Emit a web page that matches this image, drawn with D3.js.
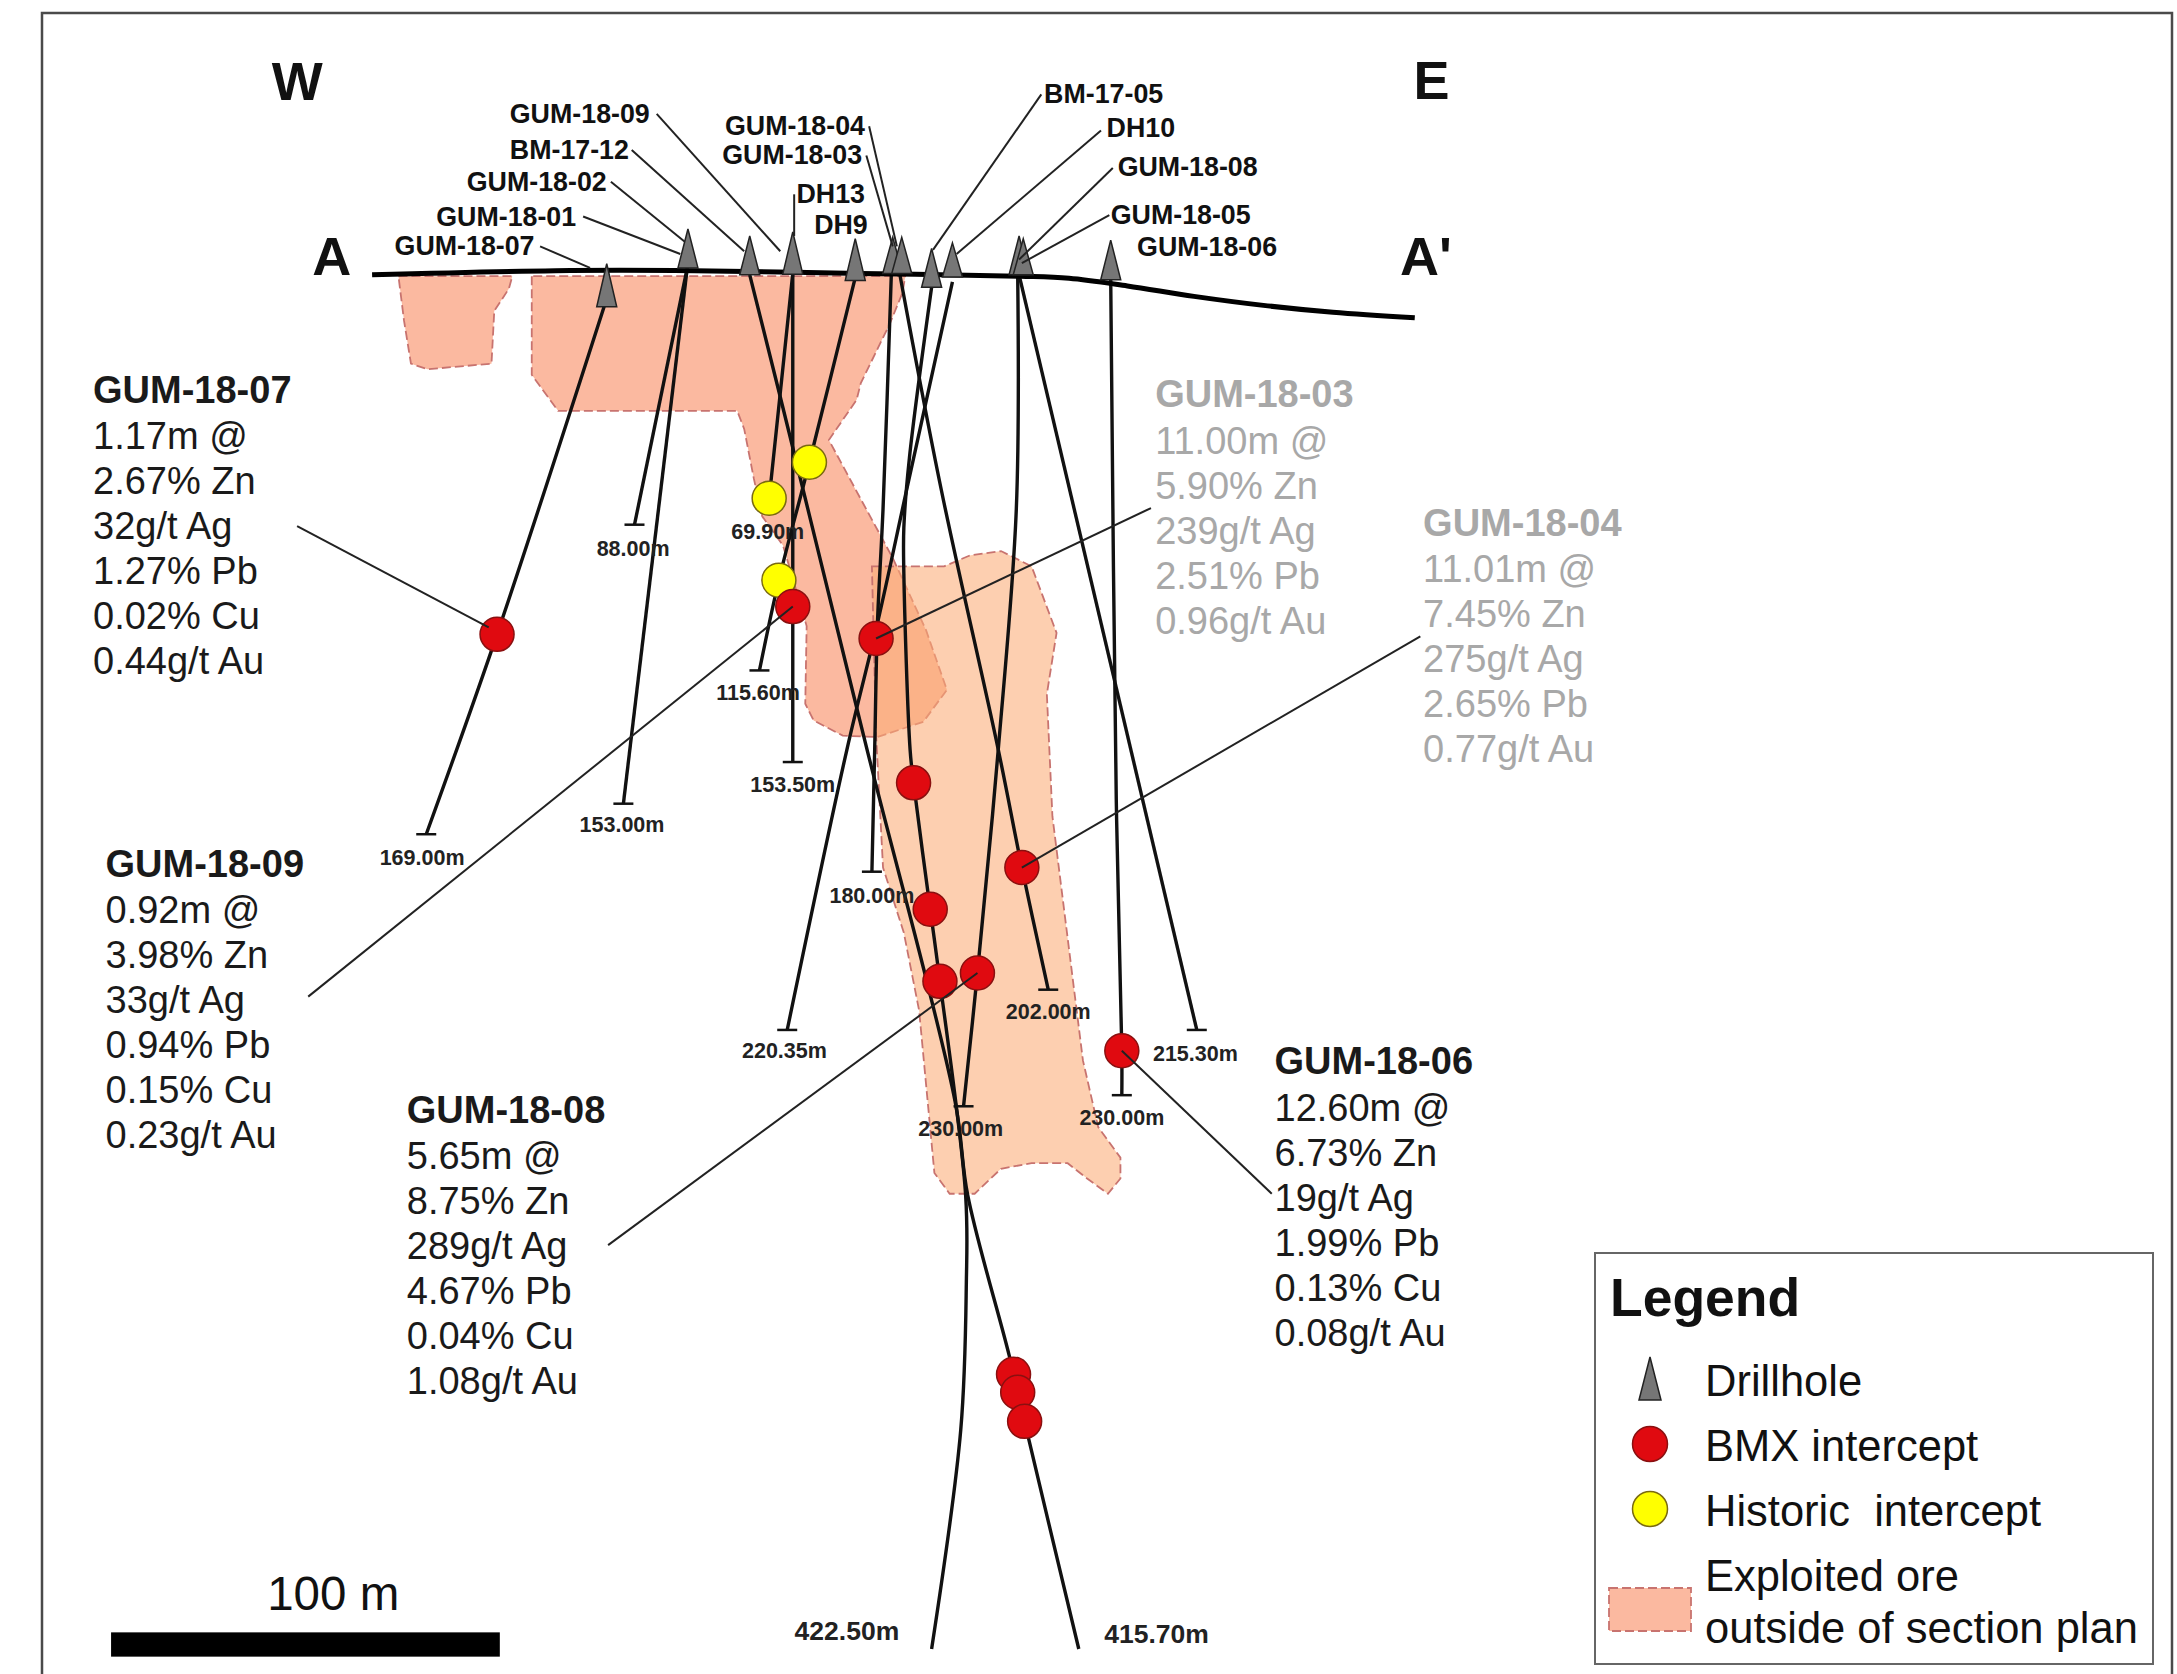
<!DOCTYPE html>
<html>
<head>
<meta charset="utf-8">
<script src="https://cdn.jsdelivr.net/npm/d3@7"></script>
<style>
  html, body { margin: 0; padding: 0; background: #fff; }
  svg { display: block; }
  text { font-family: "Liberation Sans", Arial, sans-serif; fill: #111; white-space: pre; }
</style>
</head>
<body>
<script>
// all readings are in section units: x along the section, y down the section
const holeNames = ["GUM-18-07", "GUM-18-01", "GUM-18-02", "BM-17-12", "DH13", "GUM-18-09", "DH9", "GUM-18-03", "GUM-18-05", "BM-17-05", "DH10", "GUM-18-08", "GUM-18-04", "GUM-18-06"]
const holeDepths = ["169.00m", "153.00m", "88.00m", "415.70m", "69.90m", "153.50m", "115.60m", "180.00m", "215.30m", "422.50m", "220.35m", "230.00m", "202.00m", "230.00m"]
const holeTraces = [
  [[437, 215], [358, 457], [307, 601]],
  [[495, 193], [449, 579]],
  [[495, 193], [457, 378]],
  [[540, 198], [562, 286], [578.5, 353], [624.5, 540], [688, 794], [697, 861], [727, 977], [741, 1037], [777, 1188]],
  [[571, 197], [554, 359], [553, 368]],
  [[571, 197], [571, 437], [571, 549]],
  [[616, 200], [583, 333], [561, 418], [547, 483]],
  [[642, 197], [636, 367], [632, 449], [630, 540], [628, 628]],
  [[734, 198], [862, 742]],
  [[671, 207], [655, 330], [651, 380], [651, 413], [655.5, 540], [658, 564], [670, 655], [677, 707], [695.5, 861], [696, 925], [692, 1030], [671, 1188]],
  [[686, 203], [653, 353], [632, 449], [610, 540], [567, 742]],
  [[733, 198], [732, 367], [719, 540], [704, 701], [694, 797]],
  [[648, 197], [678, 353], [719, 540], [736, 625], [755, 713]],
  [[800, 201], [804, 576], [808, 757], [808, 789]]
]
const collars = [[437, 190, 221], [495.5, 165, 193], [540, 170, 198], [571, 167, 197.5], [616, 172, 202], [643, 171, 197], [649.5, 171, 197], [671, 179, 207], [686, 175, 199.5], [734, 170, 198], [737, 172, 198], [800, 173, 201.5]]

const bmxIntercepts = [[358, 457], [571, 437], [631, 460], [658, 564], [736, 625], [670, 655], [677, 707], [704, 701], [808, 757], [730, 990], [733, 1003], [738, 1024]]
const historicIntercepts = [[583, 333], [554, 359], [561, 418]]

const surface = [[268, 198], [400, 195], [500, 195], [620, 197], [735, 199], [770, 200.5], [812, 206], [860, 213.5], [910, 220], [960, 225], [1019, 229]]
const oreSmall = [[287, 199], [369, 199], [366.5, 208], [356, 224], [354, 262], [308, 266], [296, 262], [291, 231]]
const oreUpper = [[383, 199], [383, 270], [402, 296], [531, 296], [536, 309], [543, 345], [549, 372], [564, 393], [581, 451], [580, 507], [586, 519], [607, 530], [632, 531], [665, 520], [682, 497], [667, 454], [643, 402], [624, 367], [597, 317], [617, 288], [620, 276], [641, 233], [650, 211], [652, 199]]
const oreLower = [[628, 408], [651, 408], [680, 408], [699, 400], [721, 397], [743, 408], [761, 456], [754, 500], [758, 588], [780, 764], [791, 812], [807, 834], [807, 849], [798, 860], [783, 849], [769, 838], [743, 838], [721, 842], [702, 860], [684, 860], [673, 845], [662, 728], [651, 672], [636, 625], [631, 529]]

const annotationHoles = ["GUM-18-07", "GUM-18-09", "GUM-18-08", "GUM-18-06", "GUM-18-03", "GUM-18-04"]
const annotationLines = [
  ["1.17m @", "2.67% Zn", "32g/t Ag", "1.27% Pb", "0.02% Cu", "0.44g/t Au"],
  ["0.92m @", "3.98% Zn", "33g/t Ag", "0.94% Pb", "0.15% Cu", "0.23g/t Au"],
  ["5.65m @", "8.75% Zn", "289g/t Ag", "4.67% Pb", "0.04% Cu", "1.08g/t Au"],
  ["12.60m @", "6.73% Zn", "19g/t Ag", "1.99% Pb", "0.13% Cu", "0.08g/t Au"],
  ["11.00m @", "5.90% Zn", "239g/t Ag", "2.51% Pb", "0.96g/t Au"],
  ["11.01m @", "7.45% Zn", "275g/t Ag", "2.65% Pb", "0.77g/t Au"]
]
const legendLabels = ["Drillhole", "BMX intercept", "Historic  intercept"]
const legendOreLabels = ["Exploited ore", "outside of section plan"]

const width = 2177
const height = 1674
const x = d3.scaleLinear().domain([0, 1568]).range([0, width])
const y = d3.scaleLinear().domain([0, 1206]).range([0, height])

const svg = d3.select("body").append("svg")
  .attr("width", width)
  .attr("height", height)
  .attr("viewBox", [0, 0, width, height])

const line = d3.line().x(d => x(d[0])).y(d => y(d[1]))
const curved = d3.line().x(d => x(d[0])).y(d => y(d[1])).curve(d3.curveCatmullRom)
const closed = d3.line().x(d => x(d[0])).y(d => y(d[1])).curve(d3.curveLinearClosed)

// frame runs off the bottom of the page
svg.append("path")
  .attr("d", `M42,${height + 5}V13H2172V${height + 5}`)
  .attr("fill", "none").attr("stroke", "#4a4a4a").attr("stroke-width", 2.5)

// ore shapes
const ore = svg.append("g").attr("stroke", "#c8736f").attr("stroke-width", 1.8).attr("stroke-dasharray", "9 4")
ore.selectAll("path.up").data([oreSmall, oreUpper]).join("path").attr("class", "up")
  .attr("d", closed).attr("fill", "#fbb9a0")
ore.append("path").datum(oreLower)
  .attr("d", closed).attr("fill", "#fcac77").attr("fill-opacity", 0.58)

// drillhole traces
svg.append("g").attr("fill", "none").attr("stroke", "#111").attr("stroke-width", 3.4)
  .selectAll("path").data(holeTraces).join("path").attr("d", curved)

// end of hole ticks
const tickHoles = holeTraces.filter((d, i) => ![3, 9].includes(i))
svg.append("g").attr("stroke", "#111").attr("stroke-width", 2.5)
  .selectAll("line").data(tickHoles).join("line")
  .attr("x1", d => x(d[d.length - 1][0]) - 10)
  .attr("x2", d => x(d[d.length - 1][0]) + 10)
  .attr("y1", d => y(d[d.length - 1][1]))
  .attr("y2", d => y(d[d.length - 1][1]))

// surface
svg.append("path").datum(surface)
  .attr("d", curved).attr("fill", "none").attr("stroke", "#000").attr("stroke-width", 5)

// collar triangles
const tri = d => `M${x(d[0])},${y(d[1])}L${x(d[0]) + 10},${y(d[2])}H${x(d[0]) - 10}Z`
svg.append("g").selectAll("path").data(collars).join("path")
  .attr("d", tri).attr("fill", "#767676").attr("stroke", "#222").attr("stroke-width", 1.5)

// leaders from labels to the collars
const collarLeaders = [
  [[473, 82], [562, 181]], [[455, 108], [536, 181]], [[440, 131], [493, 174]], [[420, 156], [490, 183]],
  [[389, 177.5], [425, 193]], [[626, 91], [646, 177.5]], [[624, 112], [643, 177.5]], [[572, 140], [572, 170]],
  [[750, 68], [672, 180]], [[793, 94], [689, 183]], [[801.5, 121], [734, 187]], [[799, 155], [736, 189.5]]
]
svg.append("g").attr("fill", "none").attr("stroke", "#222").attr("stroke-width", 2)
  .selectAll("path").data(collarLeaders).join("path").attr("d", line)

// intercepts
const r = 17
svg.append("g").selectAll("circle").data(historicIntercepts).join("circle")
  .attr("cx", d => x(d[0])).attr("cy", d => y(d[1])).attr("r", r)
  .attr("fill", "#ffff00").attr("stroke", "#7a6a10").attr("stroke-width", 1.5)
svg.append("g").selectAll("circle").data(bmxIntercepts).join("circle")
  .attr("cx", d => x(d[0])).attr("cy", d => y(d[1])).attr("r", r)
  .attr("fill", "#e00a10").attr("stroke", "#8a1010").attr("stroke-width", 1.5)

// leaders from the assay blocks to the intercepts
const assayLeaders = [
  [[214, 379], [352, 452]], [[222, 718], [571, 437]], [[438, 897], [704, 701]],
  [[808, 757], [916, 860]], [[829, 366], [631, 460]], [[1023, 458.5], [736, 625]]
]
svg.append("g").attr("fill", "none").attr("stroke", "#222").attr("stroke-width", 2)
  .selectAll("path").data(assayLeaders).join("path").attr("d", line)

// big letters
const bigLetters = [["W", 214, 72], ["E", 1031, 71.5], ["A", 239, 198], ["A'", 1027, 198]]
svg.append("g").selectAll("text").data(bigLetters).join("text")
  .attr("x", d => x(d[1])).attr("y", d => y(d[2]))
  .attr("text-anchor", "middle").attr("font-size", 54).attr("font-weight", "bold")
  .text(d => d[0])

// hole name labels
const nameSpots = [
  ["end", 385, 177], ["end", 415, 156], ["end", 437, 131], ["end", 453, 108], ["end", 623, 140], ["end", 468, 82], ["end", 625, 162],
  ["end", 621, 112], ["start", 800, 155], ["start", 752, 68], ["start", 797, 92], ["start", 805, 120], ["end", 623, 91], ["start", 819, 178]
]
svg.append("g").selectAll("text").data(holeNames).join("text")
  .attr("x", (d, i) => x(nameSpots[i][1]))
  .attr("y", (d, i) => y(nameSpots[i][2]) + 9)
  .attr("text-anchor", (d, i) => nameSpots[i][0])
  .attr("font-size", 26.8).attr("font-weight", "bold")
  .text(d => d)

// hole depth labels
const depthSpots = [[304, 618], [448, 594], [456, 395], [833, 1177], [553, 383], [571, 565], [546, 499], [628, 645], [861, 759], [610, 1175], [565, 757], [692, 813], [755, 729], [808, 805]]
svg.append("g").selectAll("text").data(holeDepths).join("text")
  .attr("x", (d, i) => x(depthSpots[i][0]))
  .attr("y", (d, i) => y(depthSpots[i][1]) + (i === 3 || i === 9 ? 9 : 7.5))
  .attr("text-anchor", "middle")
  .attr("font-size", (d, i) => i === 3 || i === 9 ? 26.5 : 21.5)
  .attr("font-weight", "bold").style("fill", "#222")
  .text(d => d)

// assay blocks
const blockSpots = [[67, 290], [76, 631.5], [293, 809], [918, 774], [832, 293.5], [1025, 386]]
annotationHoles.forEach((name, i) => {
  const colour = i > 3 ? "#a8a8a8" : "#1a1a1a"
  const block = svg.append("g")
  block.append("text")
    .attr("x", x(blockSpots[i][0])).attr("y", y(blockSpots[i][1]))
    .attr("font-size", 38).attr("font-weight", "bold").style("fill", colour)
    .text(name)
  block.selectAll("text.row").data(annotationLines[i]).join("text").attr("class", "row")
    .attr("x", x(blockSpots[i][0]))
    .attr("y", (d, j) => y(blockSpots[i][1] + 33.5 + j * 32.4))
    .attr("font-size", 38).style("fill", colour)
    .text(d => d)
})

// scale bar, 100 m
svg.append("text").attr("x", x(240)).attr("y", y(1160))
  .attr("text-anchor", "middle").attr("font-size", 47.5).text("100 m")
svg.append("rect").attr("x", x(80)).attr("y", y(1176))
  .attr("width", x(360) - x(80)).attr("height", y(1193.5) - y(1176)).attr("fill", "#000")

// legend
const legend = svg.append("g")
legend.append("rect").attr("x", 1595).attr("y", 1253).attr("width", 558).attr("height", 411)
  .attr("fill", "#fff").attr("stroke", "#666").attr("stroke-width", 2)
legend.append("text").attr("x", 1610).attr("y", 1316)
  .attr("font-size", 53.5).attr("font-weight", "bold").text("Legend")
legend.selectAll("text.item").data(legendLabels).join("text").attr("class", "item")
  .attr("x", 1705).attr("y", (d, i) => 1396 + i * 65)
  .attr("font-size", 43.5).text(d => d)
legend.selectAll("text.ore").data(legendOreLabels).join("text").attr("class", "ore")
  .attr("x", 1705).attr("y", (d, i) => 1591 + i * 52)
  .attr("font-size", 43.5).text(d => d)
legend.append("path").attr("d", "M1650,1357L1661,1400H1639Z")
  .attr("fill", "#767676").attr("stroke", "#222").attr("stroke-width", 1.5)
legend.append("circle").attr("cx", 1650).attr("cy", 1444).attr("r", 17.5)
  .attr("fill", "#e00a10").attr("stroke", "#8a1010").attr("stroke-width", 1.5)
legend.append("circle").attr("cx", 1650).attr("cy", 1509).attr("r", 17.5)
  .attr("fill", "#ffff00").attr("stroke", "#7a6a10").attr("stroke-width", 1.5)
legend.append("rect").attr("x", 1609).attr("y", 1588).attr("width", 82).attr("height", 43)
  .attr("fill", "#fbb9a0").attr("stroke", "#c8736f").attr("stroke-width", 1.8).attr("stroke-dasharray", "9 4")
</script>
</body>
</html>
